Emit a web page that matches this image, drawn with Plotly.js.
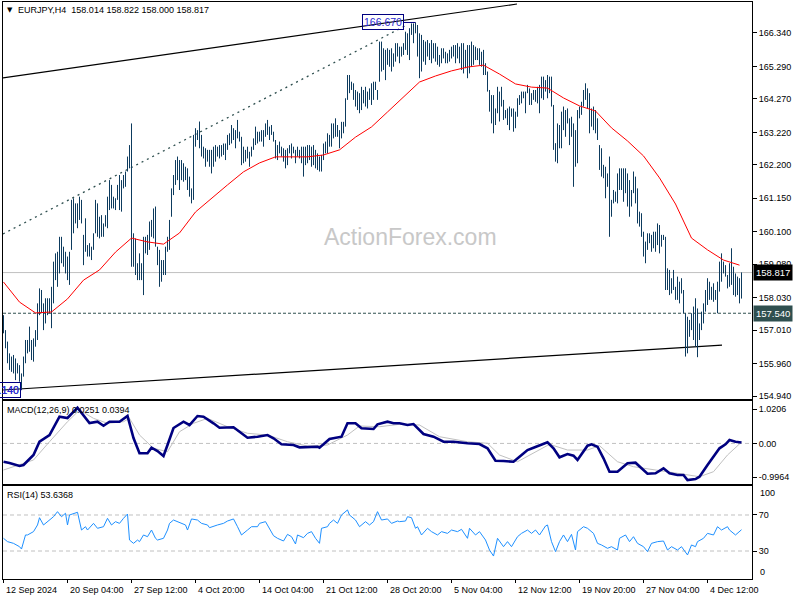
<!DOCTYPE html>
<html><head><meta charset="utf-8">
<script src="https://cdn.plot.ly/plotly-3.0.1.min.js"></script>
<style>html,body{margin:0;padding:0;background:#fff}#chart{width:800px;height:600px}</style>
</head><body><div id="chart"></div>
<script>
// ---------------- data ----------------
const symbol = 'EURJPY,H4';
const lastOHLC = [158.014, 158.822, 158.000, 158.817];
const supportLevel = 157.540;

const highs = [
157.48,157.01,156.65,156.28,156.18,156.23,156.12,155.97,155.91,155.65,
156.18,156.70,156.70,157.12,156.70,156.75,157.01,157.85,158.32,158.27,
157.85,158.01,158.01,158.01,158.37,159.16,159.42,159.47,159.94,159.94,
159.63,159.47,159.32,159.47,161.10,161.15,160.99,160.99,161.20,161.10,
160.00,160.52,159.68,159.74,159.63,160.05,161.10,160.99,160.57,160.62,
160.36,160.62,161.20,161.72,161.57,161.20,161.15,161.57,161.88,161.72,
161.88,161.99,162.46,162.82,163.50,160.05,159.89,159.11,159.42,159.11,
159.94,159.94,160.00,160.42,160.47,160.83,160.89,159.63,159.53,159.21,
159.21,159.63,159.94,160.47,161.46,161.88,162.35,162.46,162.35,162.35,
162.25,162.14,162.09,161.83,161.46,
163.14,163.35,163.29,163.56,163.14,162.77,162.72,162.67,162.67,162.67,
162.77,162.82,162.77,162.82,162.82,162.87,162.87,163.14,163.19,163.45,
163.35,163.29,163.61,163.24,163.08,162.77,162.67,162.77,162.61,162.77,
163.03,163.40,163.24,163.24,163.29,163.29,163.50,163.61,163.40,163.45,
163.24,162.98,162.82,162.93,162.77,162.72,162.67,162.72,162.82,162.87,
162.77,162.67,162.77,162.67,162.77,
162.77,162.77,162.82,162.82,162.77,162.82,162.67,162.56,162.46,162.51,
162.87,162.93,163.19,163.14,163.50,163.50,163.66,163.45,163.29,163.55,
163.55,164.29,165.02,165.02,164.81,164.76,164.55,164.50,164.45,164.65,
164.55,164.65,164.50,164.60,164.76,164.81,164.81,164.55,166.07,166.07,
165.86,165.81,165.86,165.81,165.86,165.70,166.02,166.02,165.91,165.91,
166.02,166.38,166.33,166.49,166.64,166.64,166.67,166.59,166.33,166.28,
166.12,166.07,166.12,166.02,166.12,166.02,
166.02,165.91,165.65,165.86,165.86,165.75,165.70,165.81,165.91,165.96,
165.96,166.02,165.91,166.02,166.02,165.81,165.96,165.96,166.07,165.96,
165.91,165.86,165.86,165.75,165.81,165.39,165.13,164.55,164.39,164.39,
163.97,164.65,164.50,164.65,164.24,163.92,163.97,164.03,163.97,163.97,
163.87,164.29,164.39,164.50,164.50,164.50,164.71,164.60,164.45,164.55,
164.55,164.65,164.71,164.97,164.97,164.86,165.02,164.97,164.97,164.08,
162.88,163.50,163.45,
163.87,164.03,163.92,163.97,163.66,163.71,163.50,163.29,163.92,164.03,
164.18,164.55,164.76,164.60,164.45,163.97,164.03,163.92,163.66,162.82,
162.72,162.20,162.14,161.93,162.46,161.10,161.41,161.36,161.93,162.09,
162.09,162.09,162.09,161.93,161.72,161.41,161.99,161.83,161.46,160.73,
160.68,160.10,159.79,160.05,160.05,160.00,160.10,160.10,160.36,160.31,
160.00,160.00,159.94,158.95,158.90,158.64,158.90,158.37,158.69,158.53,
158.64,158.27,157.54,157.43,157.33,157.54,157.75,158.01,157.69,157.22,
157.59,157.85,158.27,158.64,158.53,158.37,158.48,158.27,158.53,159.16,
159.42,159.16,159.05,158.74,159.11,159.58,159.00,158.79,158.69,158.64,
158.822
];
const lows = [
156.91,156.44,155.97,155.76,155.70,155.65,155.44,155.65,155.39,155.14,
155.55,155.97,156.28,156.33,156.07,156.02,156.49,156.70,157.48,157.54,
157.01,157.22,157.48,157.54,157.07,157.85,158.58,158.37,158.79,159.11,
159.00,158.79,158.58,158.43,159.53,160.05,160.36,160.21,160.47,160.36,
159.05,159.47,159.32,159.32,159.21,159.53,160.05,159.94,159.89,159.94,
159.94,160.26,160.21,160.78,160.83,160.83,160.78,161.10,160.78,160.73,
161.46,161.51,161.99,162.09,159.00,159.00,158.74,158.58,158.58,158.58,
158.11,159.42,159.37,159.53,159.94,159.89,159.63,159.05,158.37,158.53,
158.74,158.74,159.47,159.53,160.57,161.25,161.57,161.72,161.41,161.72,
161.67,161.72,161.41,161.20,160.99,
161.10,162.77,162.98,162.72,162.46,162.40,162.14,162.30,162.14,161.93,
162.14,162.30,162.46,162.40,162.46,162.51,162.35,162.67,162.82,162.87,
162.98,162.72,163.03,162.93,162.19,162.25,162.30,162.40,162.14,162.46,
162.67,162.82,162.87,162.93,162.93,162.77,163.08,163.14,162.98,163.14,
162.93,162.40,162.35,162.56,162.46,162.30,162.09,162.19,162.56,162.40,
162.56,162.25,162.46,162.40,162.25,
161.83,162.19,162.25,162.35,162.14,162.19,162.09,162.04,161.99,161.99,
162.35,162.56,162.56,162.77,162.77,163.03,163.08,163.08,162.72,163.03,
163.19,163.40,164.24,164.45,164.55,164.24,164.03,163.92,163.82,163.92,
164.13,164.03,163.97,164.24,164.08,164.24,164.55,164.24,164.81,165.13,
165.18,164.86,165.34,165.28,165.13,165.28,165.44,165.60,165.39,165.60,
165.65,165.81,165.65,165.49,166.28,166.02,166.33,165.60,164.92,165.13,
165.44,165.34,165.60,165.49,165.39,165.54,
165.44,165.34,165.28,165.39,165.54,165.39,165.39,165.44,165.54,165.60,
165.39,165.54,165.39,165.18,165.07,165.23,164.92,165.07,165.28,165.34,
165.49,165.49,165.34,165.28,165.02,165.02,164.50,163.87,163.50,163.19,
163.45,163.82,163.56,164.03,163.61,163.66,163.45,163.29,163.71,163.24,
163.35,163.71,164.08,164.13,164.29,163.82,164.45,164.08,164.08,164.24,
164.18,164.13,163.82,164.29,164.24,164.50,164.29,164.45,164.03,162.67,
162.30,162.25,162.72,
162.72,163.29,163.08,163.50,162.82,163.08,161.51,162.14,162.25,163.66,
163.77,164.03,164.24,163.97,163.19,163.40,163.29,163.19,162.98,162.04,
161.83,161.78,161.15,161.51,159.94,160.57,160.99,161.04,160.99,161.41,
161.41,161.04,161.31,160.89,160.57,160.89,161.31,160.99,160.36,160.26,
159.94,159.32,159.11,159.53,159.74,159.47,159.58,159.47,159.68,159.42,
159.63,159.84,158.27,158.27,158.11,158.16,158.27,157.96,157.96,157.85,
158.16,157.54,156.18,156.28,156.80,157.01,156.70,156.49,156.16,156.70,
157.01,157.22,157.59,157.80,157.96,157.96,157.90,157.96,157.54,158.22,
158.53,158.79,158.69,158.32,158.37,158.43,158.11,158.06,158.11,157.85,
158.000
];

// red moving average, one reading every maStep bars
const maStep = 8;
const maValues = [158.52,157.89,157.55,157.58,157.99,158.58,158.90,159.46,159.90,159.78,
159.71,160.06,160.72,161.13,161.57,161.98,162.26,162.45,162.45,162.45,
162.51,162.67,163.07,163.39,163.86,164.33,164.80,164.99,165.15,165.27,
165.33,165.05,164.74,164.64,164.61,164.30,164.05,163.89,163.36,162.95,
162.48,161.79,160.97,159.90,159.53,159.21,159.05];

// trend lines (bar index, price)
const upperTrendIdx = [-0.25, 256.75], upperTrendPx = [164.93, 167.25];
const channelIdx = [-0.25, 200.75], channelPx = [160.03, 166.56];
const lowerTrendIdx = [-0.25, 359.25], lowerTrendPx = [155.13, 156.54];

// MACD(12,26,9)
const macdIdx = [0,3,8,10,15,18,23,28,32,37,43,47,50,53,58,62,65,68,72,74,
77,80,82,85,90,93,97,100,105,108,115,118,122,127,132,135,139,145,148,157,
158,163,167,169,172,176,179,185,187,192,195,198,202,205,210,215,220,225,232,238,
242,246,250,255,258,262,265,270,272,275,278,282,285,287,289,292,294,297,300,303,
307,312,316,318,322,326,330,333,337,340,342,346,348,352,355,358,361,363,366,369];
const macdVal = [-0.543,-0.581,-0.670,-0.641,-0.344,0.050,0.249,0.792,0.753,1.059,
0.605,0.644,0.525,0.644,0.644,0.813,0.160,-0.294,-0.294,-0.128,
-0.225,-0.374,-0.047,0.457,0.644,0.546,0.813,0.792,0.596,0.466,
0.478,0.347,0.169,0.199,0.249,0.151,-0.027,-0.047,-0.116,-0.098,
-0.128,0.131,0.169,0.199,0.596,0.596,0.448,0.427,0.567,0.644,
0.596,0.596,0.546,0.575,0.279,0.199,0.050,0.050,0.003,-0.018,
-0.145,-0.513,-0.522,-0.543,-0.394,-0.196,-0.128,-0.027,0.033,-0.145,
-0.412,-0.314,-0.365,-0.492,-0.314,-0.068,-0.027,-0.098,-0.442,-0.839,
-0.839,-0.590,-0.572,-0.691,-0.899,-0.887,-0.739,-0.887,-0.937,-0.937,
-1.086,-1.056,-0.988,-0.641,-0.394,-0.145,-0.027,0.101,0.050,0.0251];
const sigIdx = [0,8,15,23,32,38,45,52,60,63,68,75,82,88,95,102,112,122,132,142,
152,162,172,178,188,198,208,218,232,242,248,257,265,273,282,292,298,307,315,325,
337,348,355,362,369];
const sigVal = [-0.789,-0.641,-0.492,0.050,0.644,0.991,0.744,0.596,0.644,0.744,
0.249,-0.145,-0.246,0.347,0.596,0.744,0.495,0.300,0.249,0.050,
-0.077,-0.047,0.249,0.516,0.495,0.567,0.546,0.199,0.050,0.003,
-0.344,-0.543,-0.294,-0.027,-0.196,-0.196,-0.068,-0.543,-0.691,-0.789,
-0.887,-0.988,-0.839,-0.344,0.0394];

// RSI(14)
const rsiIdx = [0,2,5,8,9,11,12,15,17,18,20,22,25,27,29,31,32,33,37,39,
41,42,45,47,50,52,54,56,58,60,62,63,65,67,68,70,72,74,76,77,
80,82,83,85,88,91,92,94,97,99,102,103,107,110,112,115,117,119,122,124,
127,128,131,133,135,137,140,142,144,146,147,150,152,154,156,158,159,162,163,165,
167,169,172,173,176,178,181,183,185,187,189,192,194,197,
198,201,202,204,206,207,209,212,214,217,219,222,224,227,229,232,233,236,238,241,
243,245,247,250,252,254,257,259,262,264,266,268,271,272,274,276,278,280,282,284,
286,287,290,292,295,297,299,302,304,307,308,311,313,315,317,320,322,324,327,330,
332,334,337,339,342,344,346,347,350,352,355,357,359,362,363,366,369];
const rsiVal = [44.1,40.4,38.5,34.8,32.2,47.8,47.8,51.5,58.9,67.0,
58.9,62.6,68.1,73.7,68.1,71.9,58.9,70,73.0,53.3,
57.0,53.3,60.7,55.2,57.0,66.3,58.9,62.6,60.7,66.3,
71.1,42.2,38.5,42.2,40.4,47.8,45.9,53.3,44.1,42.2,
44.1,53.3,60.7,64.4,61.9,58.9,53.3,65.6,64.4,60.7,
58.9,55.9,58.9,60.7,63.3,65.6,57.0,47.8,53.3,57.0,
57.0,60.7,62.6,55.2,47.0,44.1,41.1,48.5,45.9,37.8,
47.8,44.8,49.6,51.5,44.1,38.5,55.2,57.0,60.7,64.4,
60.7,70,75.6,70,64.4,57.0,62.6,58.9,62.6,73.7,
64.4,65.6,60.7,63.3,
62.6,63.3,68.1,67.0,55.2,57.0,47.8,55.2,51.5,47.8,
51.5,49.6,53.3,51.5,54.1,44.1,55.2,47.8,51.5,42.2,
31.1,24.4,44.1,34.8,40.4,34.8,45.9,49.6,53.3,49.6,
53.3,47.8,57.8,58.9,40.4,29.3,40.4,47.8,40.4,48.5,
31.1,51.5,57.0,55.2,49.6,38.5,36.7,33.0,34.8,31.1,
44.1,47.8,40.4,45.9,38.5,34.8,29.3,38.5,40.4,41.1,
31.1,34.8,31.1,34.8,25.6,36.7,34.8,40.4,44.1,49.6,
47.8,57.0,53.3,57.0,53.3,47.8,53.6368];

const priceTicks = [154.94,155.96,157.01,158.03,159.08,160.10,161.15,162.20,163.22,164.27,165.29,166.34];
const macdTicks = [-0.9964, 0, 1.0206];
const macdTickText = ['-0.9964','0.00','1.0206'];
const rsiTicks = [30, 70];
const rsiEdgeLabels = ['100', '0'];
const rsiLevels = [30, 70];
const timeTickIdx = [0,32,64,96,128,160,192,224,256,288,320,352];
const timeLabels = ['12 Sep 2024','20 Sep 04:00','27 Sep 12:00','4 Oct 20:00','14 Oct 04:00','21 Oct 12:00',
  '28 Oct 20:00','5 Nov 04:00','12 Nov 12:00','19 Nov 20:00','27 Nov 04:00','4 Dec 12:00'];
const macdLabel = 'MACD(12,26,9) 0.0251 0.0394';
const rsiLabel = 'RSI(14) 53.6368';
const watermark = 'ActionForex.com';

// ---------------- layout helpers ----------------
const L=3, R=48, T=2, B=21, W=800-L-R, H=600-T-B;
const px = x => (x-L)/W;
const py = y => 1-(y-T)/H;
const FONT = 'Liberation Sans, Arial, sans-serif';
const BAR = '#0D3B5E';

const bx=[], by=[];
for (let i=0;i<highs.length;i++){ bx.push(i,i,null); by.push(lows[i],highs[i],null); }

const traces = [
  {type:'scatter', mode:'lines', x:upperTrendIdx, y:upperTrendPx, line:{color:'#000',width:1.2}, xaxis:'x', yaxis:'y', hoverinfo:'skip'},
  {type:'scatter', mode:'lines', x:channelIdx, y:channelPx, line:{color:'#2F4F4F',width:1.3,dash:'2px,4px'}, xaxis:'x', yaxis:'y', hoverinfo:'skip'},
  {type:'scatter', mode:'lines', x:lowerTrendIdx, y:lowerTrendPx, line:{color:'#000',width:1.2}, xaxis:'x', yaxis:'y', hoverinfo:'skip'},
  {type:'scatter', mode:'lines', x:bx, y:by, connectgaps:false, line:{color:BAR,width:1}, xaxis:'x', yaxis:'y', hoverinfo:'skip'},
  {type:'scatter', mode:'lines', x:maValues.map((_,k)=>k*maStep), y:maValues, line:{color:'#FF0000',width:1}, xaxis:'x', yaxis:'y', hoverinfo:'skip'},
  {type:'scatter', mode:'lines', x:sigIdx, y:sigVal, line:{color:'#C0C0C0',width:1}, xaxis:'x2', yaxis:'y2', hoverinfo:'skip'},
  {type:'scatter', mode:'lines', x:macdIdx, y:macdVal, line:{color:'#000080',width:2.6}, xaxis:'x2', yaxis:'y2', hoverinfo:'skip'},
  {type:'scatter', mode:'lines', x:rsiIdx, y:rsiVal, line:{color:'#1E90FF',width:1}, xaxis:'x3', yaxis:'y3', hoverinfo:'skip'}
];

const frame = {showline:true, mirror:true, linecolor:'#000', linewidth:1, showgrid:false, zeroline:false};
const xRange = [-0.25, -0.25 + W/2];

const shapes = [
  {type:'line', xref:'paper', x0:0, x1:1, yref:'y', y0:lastOHLC[3], y1:lastOHLC[3], line:{color:'#C0C0C0',width:1}, layer:'below'},
  {type:'line', xref:'paper', x0:0, x1:1, yref:'y', y0:supportLevel, y1:supportLevel, line:{color:'#2F4F4F',width:1,dash:'3px,2px'}, layer:'below'},
  {type:'line', xref:'paper', x0:0, x1:1, yref:'y2', y0:0, y1:0, line:{color:'#C0C0C0',width:1,dash:'4px,3px'}, layer:'below'}
].concat(rsiLevels.map(v=>({type:'line', xref:'paper', x0:0, x1:1, yref:'y3', y0:v, y1:v, line:{color:'#C0C0C0',width:1,dash:'4px,3px'}, layer:'below'})));

let iMax=0, iMin=0;
highs.forEach((h,i)=>{ if(h>highs[iMax]) iMax=i; });
lows.forEach((l,i)=>{ if(l<lows[iMin]) iMin=i; });
const firstLowIdx = 9;

const boxLabel = (i, v, ax) => ({x:i, y:v, xref:'x', yref:'y', text:v.toFixed(3), showarrow:true, arrowhead:0,
  arrowwidth:1, arrowcolor:'#000080', ax:ax, ay:0, standoff:0, bordercolor:'#000080', borderwidth:1, borderpad:1,
  font:{family:FONT,size:10.5,color:'#2A2ACF'}});

const annotations = [
  {xref:'paper', yref:'paper', x:px(5), y:py(10.5), xanchor:'left', yanchor:'middle', text:'▼', showarrow:false, font:{family:'DejaVu Sans',size:7,color:'#000'}},
  {xref:'paper', yref:'paper', x:px(16), y:py(10.5), xanchor:'left', yanchor:'middle', showarrow:false,
   text: symbol + '&nbsp;&nbsp;' + lastOHLC.map(v=>v.toFixed(3)).join(' '), font:{family:FONT,size:9,color:'#000'}},
  {xref:'paper', yref:'paper', x:px(5), y:py(410), xanchor:'left', yanchor:'middle', showarrow:false, text:macdLabel, font:{family:FONT,size:9,color:'#000'}},
  {xref:'paper', yref:'paper', x:px(5), y:py(495), xanchor:'left', yanchor:'middle', showarrow:false, text:rsiLabel, font:{family:FONT,size:9,color:'#000'}},
  {xref:'paper', yref:'paper', x:px(410), y:py(237), xanchor:'center', yanchor:'middle', showarrow:false, text:watermark, font:{family:FONT,size:23,color:'#C8C8C8'}},
  {xref:'paper', yref:'y', x:1, xshift:1, y:lastOHLC[3], xanchor:'left', yanchor:'middle', showarrow:false, text:lastOHLC[3].toFixed(3),
   bgcolor:'#000', borderpad:2, font:{family:FONT,size:9.5,color:'#fff'}},
  {xref:'paper', yref:'y', x:1, xshift:1, y:supportLevel, xanchor:'left', yanchor:'middle', showarrow:false, text:supportLevel.toFixed(3),
   bgcolor:'#2F4F4F', borderpad:2, font:{family:FONT,size:9.5,color:'#fff'}},
  {xref:'paper', yref:'paper', x:1, xshift:6, y:py(493), xanchor:'left', yanchor:'middle', showarrow:false, text:rsiEdgeLabels[0], font:{family:FONT,size:9,color:'#000'}},
  {xref:'paper', yref:'paper', x:1, xshift:6, y:py(572), xanchor:'left', yanchor:'middle', showarrow:false, text:rsiEdgeLabels[1], font:{family:FONT,size:9,color:'#000'}},
  boxLabel(iMax, highs[iMax], -33),
  boxLabel(iMin, lows[iMin], -31),
  boxLabel(firstLowIdx, lows[firstLowIdx], -34)
].concat(timeTickIdx.map((t,k)=>({xref:'x3', yref:'paper', x:t, y:py(590), xanchor:'left', yanchor:'middle', showarrow:false,
   text:timeLabels[k], font:{family:FONT,size:9,color:'#000'}})));

const layout = {
  width:800, height:600, margin:{l:L, r:R, t:T, b:B}, paper_bgcolor:'#fff', plot_bgcolor:'#fff',
  showlegend:false, font:{family:FONT, size:9, color:'#000'},
  xaxis: Object.assign({}, frame, {domain:[0,1], anchor:'y', range:xRange, showticklabels:false, ticks:''}),
  xaxis2: Object.assign({}, frame, {domain:[0,1], anchor:'y2', matches:'x', showticklabels:false, ticks:''}),
  xaxis3: Object.assign({}, frame, {domain:[0,1], anchor:'y3', matches:'x', tickmode:'array', tickvals:timeTickIdx, ticks:'outside', ticklen:3, tickcolor:'#000', showticklabels:false}),
  yaxis: Object.assign({}, frame, {domain:[py(399),1], anchor:'x', side:'right', range:[154.847,167.313], tickmode:'array',
    tickvals:priceTicks, ticktext:priceTicks.map(v=>v.toFixed(3)), ticks:'outside', ticklen:4, tickcolor:'#000', tickfont:{family:FONT,size:9}}),
  yaxis2: Object.assign({}, frame, {domain:[py(484),py(401)], anchor:'x2', side:'right', range:[-1.204,1.258], tickmode:'array',
    tickvals:macdTicks, ticktext:macdTickText, ticks:'outside', ticklen:4, tickcolor:'#000', tickfont:{family:FONT,size:9}}),
  yaxis3: Object.assign({}, frame, {domain:[0,py(486)], anchor:'x3', side:'right', range:[-1.1,102.2], tickmode:'array',
    tickvals:rsiTicks, ticks:'outside', ticklen:4, tickcolor:'#000', tickfont:{family:FONT,size:9}}),
  shapes: shapes,
  annotations: annotations
};

Plotly.newPlot('chart', traces, layout, {staticPlot:true, displayModeBar:false});
</script>
</body></html>
